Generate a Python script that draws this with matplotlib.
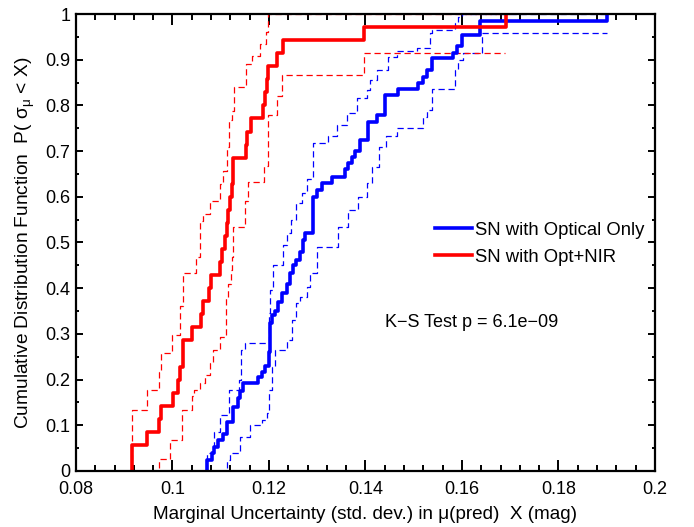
import numpy as np
import matplotlib
matplotlib.use("Agg")
import matplotlib.pyplot as plt
from matplotlib.ticker import MultipleLocator, FormatStrFormatter

plt.rcParams['font.family'] = ['Liberation Sans', 'DejaVu Sans']
plt.rcParams['mathtext.fontset'] = 'custom'
plt.rcParams['mathtext.rm'] = 'Liberation Sans'
plt.rcParams['mathtext.it'] = 'Liberation Sans'
plt.rcParams['mathtext.default'] = 'regular'

# --- data ---
# Opt+NIR sample (35 SN), marginal uncertainty in mag
red_vals = [0.0916, 0.0916, 0.0947, 0.0973, 0.0976, 0.1002, 0.1012, 0.1016,
            0.1021, 0.1022, 0.1040, 0.1059, 0.1064, 0.1076, 0.1079, 0.1098,
            0.1102, 0.1109, 0.1112, 0.1116, 0.1119, 0.1123, 0.1125, 0.1126,
            0.1152, 0.1155, 0.1162, 0.1187, 0.1192, 0.1195, 0.1197, 0.1216,
            0.1228, 0.1397, 0.1691]

# red band (steps: x where level starts, level)
red_hi_x = [0.0916, 0.0916, 0.0947, 0.0971, 0.0976, 0.0998, 0.1016, 0.1022,
            0.1049, 0.1057, 0.1064, 0.1078, 0.1098, 0.1105, 0.1112, 0.1118,
            0.1123, 0.1127, 0.1152, 0.1164, 0.1181, 0.1193, 0.1197, 0.1700]
red_hi_y = [0.0, 0.133, 0.177, 0.217, 0.258, 0.298, 0.360, 0.433,
            0.469, 0.548, 0.562, 0.591, 0.628, 0.657, 0.708, 0.767,
            0.788, 0.840, 0.890, 0.909, 0.934, 0.960, 1.0, 1.0]
red_lo_x = [0.0916, 0.0971, 0.0995, 0.1019, 0.1040, 0.1045, 0.1057, 0.1067,
            0.1078, 0.1083, 0.1098, 0.1111, 0.1116, 0.1121, 0.1123, 0.1126,
            0.1150, 0.1156, 0.1190, 0.1197, 0.1216, 0.1226, 0.1396, 0.1690]
red_lo_y = [0.0, 0.026, 0.068, 0.133, 0.163, 0.177, 0.192, 0.210,
            0.236, 0.265, 0.294, 0.381, 0.410, 0.440, 0.469, 0.533,
            0.591, 0.632, 0.668, 0.779, 0.821, 0.867, 0.915, 0.915]

# Optical-only sample, traced as steps
blue_x = [0.1071, 0.1071, 0.1081, 0.1085, 0.1095, 0.1105, 0.1112, 0.1126,
          0.1136, 0.1140, 0.1147, 0.1178, 0.1185, 0.1192, 0.1199, 0.1202,
          0.1206, 0.1212, 0.1219, 0.1226, 0.1237, 0.1244, 0.1250, 0.1257,
          0.1264, 0.1271, 0.1275, 0.1292, 0.1299, 0.1309, 0.1330, 0.1358,
          0.1364, 0.1371, 0.1378, 0.1389, 0.1406, 0.1423, 0.1440, 0.1468,
          0.1509, 0.1520, 0.1527, 0.1537, 0.1582, 0.1590, 0.1600, 0.1637,
          0.1900]
blue_y = [0.0, 0.024, 0.040, 0.053, 0.068, 0.080, 0.108, 0.141,
          0.160, 0.175, 0.192, 0.205, 0.217, 0.230, 0.260, 0.323,
          0.341, 0.350, 0.370, 0.389, 0.410, 0.433, 0.450, 0.462,
          0.480, 0.505, 0.520, 0.600, 0.615, 0.630, 0.644, 0.660,
          0.675, 0.688, 0.700, 0.724, 0.764, 0.780, 0.823, 0.837,
          0.850, 0.863, 0.877, 0.903, 0.914, 0.930, 0.954, 0.985,
          1.0]

blue_hi_x = [0.1071, 0.1071, 0.1085, 0.1098, 0.1118, 0.1138, 0.1143, 0.1150,
             0.1199, 0.1202, 0.1208, 0.1228, 0.1237, 0.1245, 0.1257, 0.1268,
             0.1278, 0.1292, 0.1323, 0.1340, 0.1361, 0.1382, 0.1404, 0.1409,
             0.1423, 0.1447, 0.1465, 0.1506, 0.1534, 0.1537, 0.1586, 0.1592,
             0.1599, 0.1900]
blue_hi_y = [0.0, 0.040, 0.086, 0.123, 0.177, 0.199, 0.265, 0.279,
             0.345, 0.396, 0.450, 0.495, 0.520, 0.549, 0.586, 0.608,
             0.640, 0.717, 0.732, 0.757, 0.783, 0.816, 0.834, 0.856,
             0.877, 0.907, 0.918, 0.925, 0.958, 0.965, 0.980, 0.994,
             1.0, 1.0]
blue_lo_x = [0.1098, 0.1112, 0.1119, 0.1140, 0.1161, 0.1185, 0.1195, 0.1201,
             0.1206, 0.1212, 0.1237, 0.1247, 0.1257, 0.1264, 0.1278, 0.1285,
             0.1299, 0.1344, 0.1364, 0.1385, 0.1403, 0.1413, 0.1427, 0.1442,
             0.1465, 0.1520, 0.1527, 0.1537, 0.1586, 0.1592, 0.1603, 0.1641,
             0.1900]
blue_lo_y = [0.0, 0.024, 0.039, 0.075, 0.100, 0.112, 0.126, 0.177,
             0.228, 0.265, 0.287, 0.330, 0.367, 0.381, 0.403, 0.433,
             0.490, 0.535, 0.571, 0.600, 0.630, 0.666, 0.710, 0.732,
             0.750, 0.775, 0.790, 0.836, 0.877, 0.900, 0.915, 0.959,
             0.959]

ks_text = 'K\u2212S Test p = 6.1e\u221209'

# ecdf of the red sample
rx = np.sort(np.array(red_vals))
rx = np.concatenate([[rx[0]], rx])
ry = np.concatenate([[0.0], np.arange(1, len(red_vals) + 1) / len(red_vals)])

fig = plt.figure(figsize=(6.94, 5.27), dpi=100)
ax = fig.add_axes([0.1095, 0.1063, 0.8343, 0.8671])

dash = (0, (5, 3))
ax.plot(blue_hi_x, blue_hi_y, drawstyle='steps-post', color='blue', lw=0.9, ls=dash)
ax.plot(blue_lo_x, blue_lo_y, drawstyle='steps-post', color='blue', lw=0.9, ls=dash)
ax.plot(red_hi_x, red_hi_y, drawstyle='steps-post', color='red', lw=0.9, ls=dash)
ax.plot(red_lo_x, red_lo_y, drawstyle='steps-post', color='red', lw=0.9, ls=dash)
ax.plot(blue_x, blue_y, drawstyle='steps-post', color='blue', lw=2.6, label='SN with Optical Only')
ax.plot(rx, ry, drawstyle='steps-post', color='red', lw=2.6, label='SN with Opt+NIR')

ax.set_xlim(0.08, 0.2)
ax.set_ylim(0, 1)
ax.xaxis.set_major_locator(MultipleLocator(0.02))
ax.xaxis.set_minor_locator(MultipleLocator(0.004))
ax.yaxis.set_major_locator(MultipleLocator(0.1))
ax.yaxis.set_minor_locator(MultipleLocator(0.05))
ax.xaxis.set_major_formatter(FormatStrFormatter('%g'))
ax.yaxis.set_major_formatter(FormatStrFormatter('%g'))
ax.tick_params(which='both', direction='in', top=True, right=True, width=1.4, labelsize=13)
ax.tick_params(axis='x', which='major', length=8)
ax.tick_params(axis='x', which='minor', length=4.5)
ax.tick_params(axis='y', which='major', length=5)
ax.tick_params(axis='y', which='minor', length=2.5)
ax.tick_params(axis='x', pad=7)
ax.tick_params(axis='y', pad=4)
for s in ax.spines.values():
    s.set_linewidth(1.6)

ax.set_xlabel('Marginal Uncertainty (std. dev.) in \u03bc(pred)  X (mag)', fontsize=13.6, labelpad=6)
ax.set_ylabel(r'Cumulative Distribution Function  P( $\sigma_{\mu}$ < X)', fontsize=13.8, labelpad=6)

ax.legend(loc='upper left', bbox_to_anchor=(0.607, 0.562), frameon=False, fontsize=13.3,
          handlelength=2.0, handletextpad=0.15, labelspacing=0.55, borderaxespad=0)
ax.text(0.1441, 0.326, ks_text, fontsize=13, va='center', ha='left')

fig.savefig('out.png', dpi=100)
